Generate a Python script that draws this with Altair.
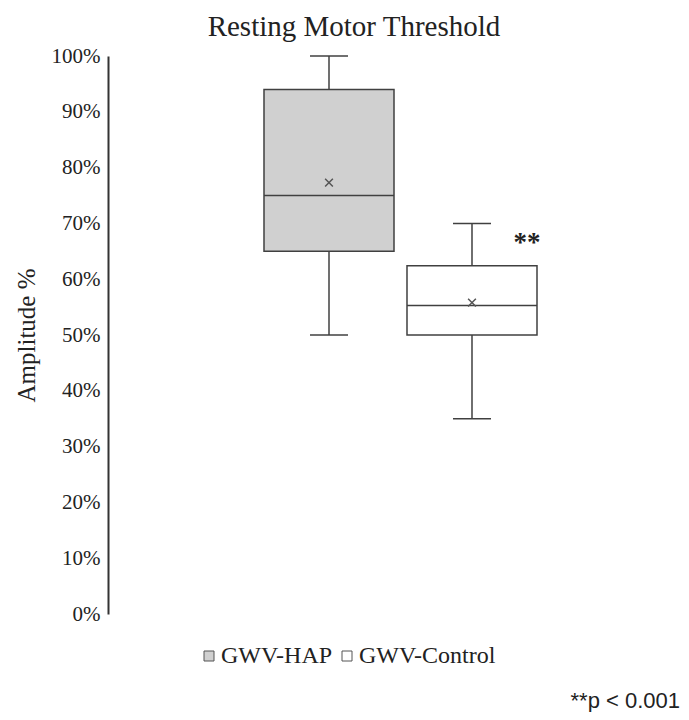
import altair as alt
import pandas as pd

groups = ["GWV-HAP", "GWV-Control"]
whisker_low = [0.50, 0.35]
q1 = [0.65, 0.50]
median = [0.75, 0.553]
q3 = [0.94, 0.624]
whisker_high = [1.00, 0.70]
mean = [0.773, 0.558]
fills = ["#d0d0d0", "#ffffff"]

df = pd.DataFrame({
    "group": groups, "lo": whisker_low, "q1": q1, "median": median,
    "q3": q3, "hi": whisker_high, "mean": mean,
})
sig = pd.DataFrame({"group": ["GWV-Control"], "y": [0.665], "label": ["**"]})
note = pd.DataFrame({"label": ["**p < 0.001"]})

SERIF = "Liberation Serif"
STROKE = "#404040"

xscale = alt.Scale(domain=groups, paddingInner=0.0909, paddingOuter=0.5, range=[84.5, 500.5])
x = alt.X("group:N", scale=xscale, axis=None)
yscale = alt.Scale(domain=[0, 1], nice=False)
yaxis = alt.Axis(format=".0%", values=[i / 10 for i in range(11)], grid=False, ticks=False,
                 domainColor="#333333", domainWidth=2, labelFont=SERIF, labelFontSize=21,
                 labelColor="#222222", labelPadding=8, title="Amplitude %", titleFont=SERIF,
                 titleFontSize=25, titleFontWeight="normal", titleColor="#222222", titlePadding=12)

base = alt.Chart(df)
whisk = base.mark_rule(color=STROKE, strokeWidth=1.5).encode(
    x=x, y=alt.Y("lo:Q", scale=yscale, axis=yaxis), y2="hi:Q")
box = base.mark_bar(stroke=STROKE, strokeWidth=1.5).encode(
    x=x, y="q1:Q", y2="q3:Q",
    fill=alt.Fill("group:N", scale=alt.Scale(domain=groups, range=fills),
                  legend=alt.Legend(title=None, orient="none", direction="horizontal",
                                    legendX=89, legendY=588, symbolType="square",
                                    symbolSize=100, symbolStrokeColor="#555555",
                                    symbolStrokeWidth=1, labelFont=SERIF, labelFontSize=24,
                                    labelColor="#222222", columnPadding=2, labelOffset=0)))
med = base.mark_tick(color=STROKE, thickness=1.5, size=130, opacity=1).encode(x=x, y="median:Q")
caplo = base.mark_tick(color=STROKE, thickness=1.5, size=38, opacity=1).encode(x=x, y="lo:Q")
caphi = base.mark_tick(color=STROKE, thickness=1.5, size=38, opacity=1).encode(x=x, y="hi:Q")
mn = base.mark_point(shape="M-1,-1L1,1M-1,1L1,-1", size=60, filled=False, opacity=1,
                     color="#555555", strokeWidth=1.5).encode(x=x, y="mean:Q")
stars = alt.Chart(sig).mark_text(font=SERIF, fontSize=27, fontWeight="bold", dx=55, dy=0,
                                 color="#222222").encode(x=x, y="y:Q", text="label:N")
foot = alt.Chart(note).mark_text(font="Liberation Sans", fontSize=22, align="right",
                                 color="#222222").encode(
    x=alt.value(572), y=alt.value(645), text="label:N")

chart = alt.layer(whisk, box, med, caplo, caphi, mn, stars, foot).properties(
    width=570, height=558,
    title=alt.TitleParams("Resting Motor Threshold", font=SERIF, fontSize=29,
                          fontWeight="normal", color="#222222", dx=-39, offset=3),
    autosize=alt.AutoSizeParams(type="none"),
    padding={"left": 100, "top": 48, "right": 3, "bottom": 98},
).configure_view(stroke=None)

chart.save("out.html", embed_options={"renderer": "svg", "actions": False})
